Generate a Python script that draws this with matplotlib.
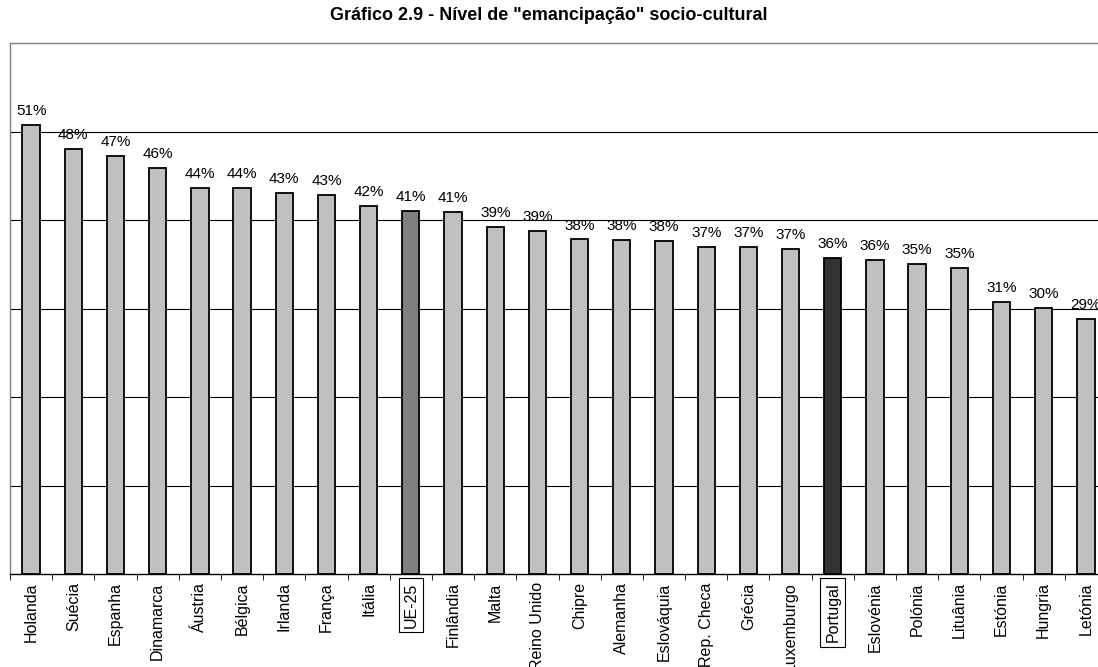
import matplotlib
matplotlib.use("Agg")
import matplotlib.pyplot as plt
import numpy as np

plt.rcParams['font.family'] = ['Liberation Sans', 'DejaVu Sans']

categories = ["Holanda", "Suécia", "Espanha", "Dinamarca", "Áustria", "Bélgica", "Irlanda",
              "França", "Itália", "UE-25", "Finlândia", "Malta", "Reino Unido", "Chipre",
              "Alemanha", "Eslováquia", "Rep. Checa", "Grécia", "Luxemburgo", "Portugal",
              "Eslovénia", "Polónia", "Lituânia", "Estónia", "Hungria", "Letónia"]
values = [50.7, 48.0, 47.2, 45.9, 43.6, 43.6, 43.1, 42.8, 41.6, 41.0, 40.9, 39.2, 38.8,
          37.8, 37.7, 37.6, 37.0, 36.9, 36.7, 35.7, 35.5, 35.0, 34.6, 30.7, 30.1, 28.8]
highlight = {"UE-25": "#808080", "Portugal": "#333333"}
title = 'Gráfico 2.9 - Nível de "emancipação" socio-cultural'

W, H = 1098, 667
fig = plt.figure(figsize=(W / 100, H / 100), dpi=100)
ax = fig.add_axes([10 / W, 1 - 574 / H, 1097 / W, 531 / H])

x = np.arange(len(categories))
colors = [highlight.get(c, "#C0C0C0") for c in categories]
ax.bar(x, values, width=0.41, color=colors, edgecolor="black", linewidth=1.3, zorder=3)

for xi, v in zip(x, values):
    ax.annotate(f"{v:.0f}%", (xi, v), xytext=(0, 5), textcoords="offset points",
                ha="center", va="bottom", fontsize=11)

ax.set_xlim(-0.5, len(categories) - 0.5)
ax.set_ylim(0, 60)
ax.set_yticks([10, 20, 30, 40, 50])
ax.yaxis.grid(True, color="black", linewidth=0.8, zorder=0)
ax.tick_params(axis="y", left=False, labelleft=False)

ax.set_xticks(x)
ax.set_xticklabels(categories, rotation=90, fontsize=11.5)
ax.tick_params(axis="x", which="major", length=0, pad=6)
ax.set_xticks(np.arange(len(categories) + 1) - 0.5, minor=True)
ax.tick_params(axis="x", which="minor", length=4, direction="out", color="black")

for lbl in ax.get_xticklabels():
    if lbl.get_text() in highlight:
        lbl.set_bbox(dict(boxstyle="square,pad=0.3", facecolor="white", edgecolor="black", linewidth=0.8))

for s in ["left", "top", "right"]:
    ax.spines[s].set_color("#808080")
    ax.spines[s].set_linewidth(1.0)
ax.spines["bottom"].set_color("black")
ax.spines["bottom"].set_linewidth(1.0)

fig.text(0.5, 1 - 16 / H, title, ha="center", va="center", fontsize=13, fontweight="bold")

fig.savefig("out.png", dpi=100)
